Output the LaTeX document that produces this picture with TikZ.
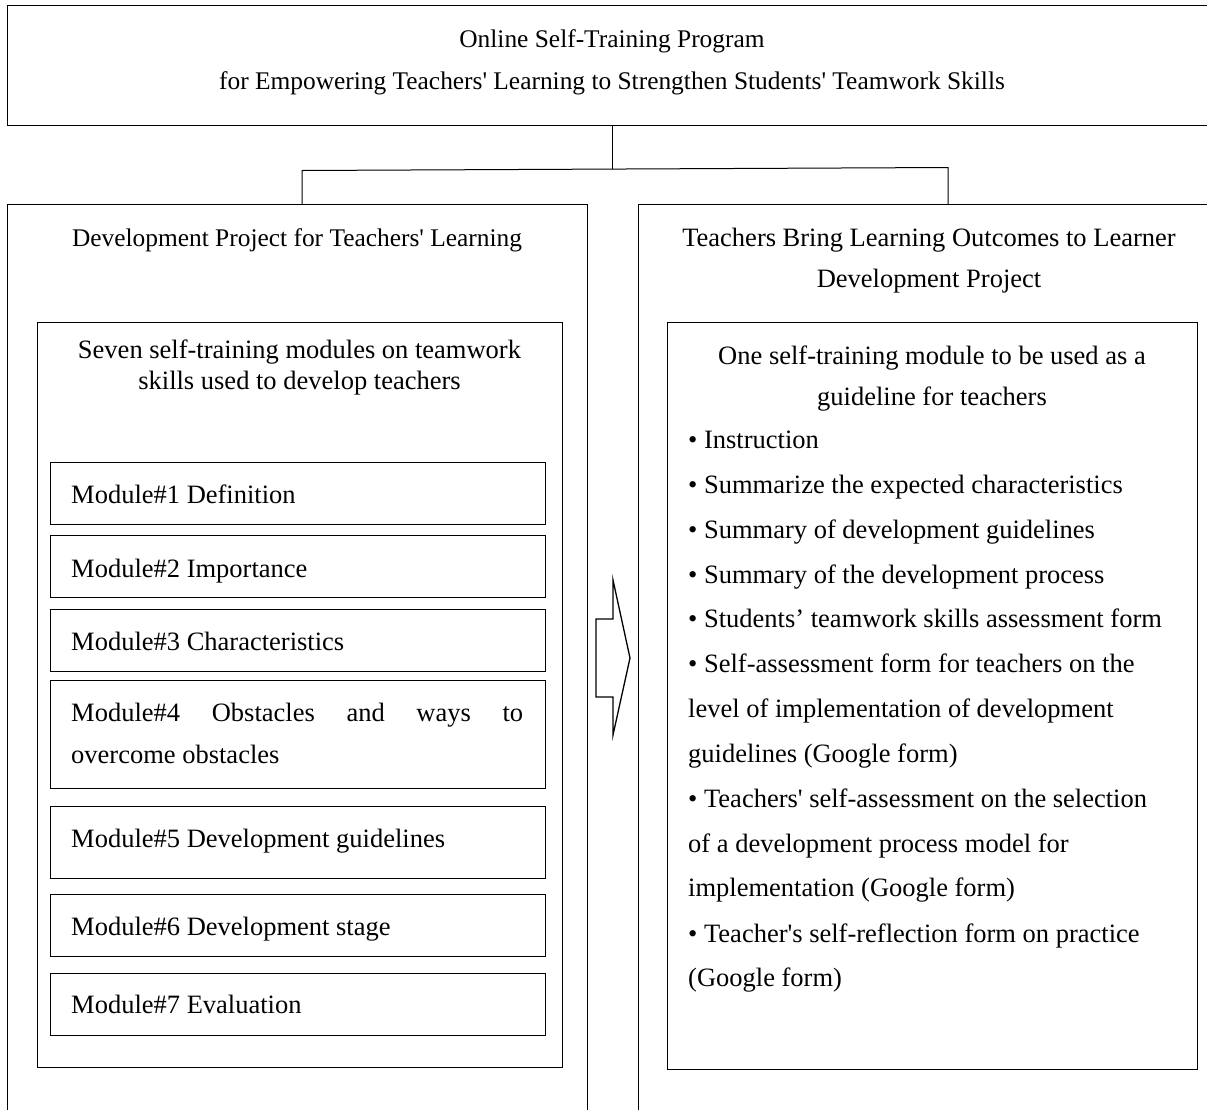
\documentclass[tikz,border=0pt]{standalone}
\usepackage{fontspec}
\setmainfont{Liberation Serif}
\begin{document}
\begin{tikzpicture}[x=1pt,y=-1pt,
  box/.style={draw=black,line width=1.1pt,inner sep=0pt},
  txt/.style={inner sep=0pt,font=\fontsize{26.5}{30}\selectfont},
  small/.style={font=\fontsize{25.4}{30}\selectfont},
  ctr/.style={txt,anchor=base},
  lft/.style={txt,anchor=base west},
  link/.style={draw=black,line width=1pt}]
\useasboundingbox (0,0) rectangle (1207,1109);
\fill[white] (0,0) rectangle (1207,1109);
% ----- boxes
\node[box,minimum width=1208pt,minimum height=120pt,anchor=north west] (top) at (7,5) {};
\node[box,minimum width=580pt,minimum height=930pt,anchor=north west] (L) at (7,204) {};
\node[box,minimum width=580pt,minimum height=930pt,anchor=north west] (R) at (638,204) {};
\node[box,minimum width=525pt,minimum height=745pt,anchor=north west] (Li) at (37,322) {};
\node[box,minimum width=530pt,minimum height=747pt,anchor=north west] (Ri) at (667,322) {};
\node[box,minimum width=495pt,minimum height=62pt,anchor=north west] (m1) at (50,462) {};
\node[box,minimum width=495pt,minimum height=62pt,anchor=north west] (m2) at (50,535) {};
\node[box,minimum width=495pt,minimum height=62pt,anchor=north west] (m3) at (50,608.5) {};
\node[box,minimum width=495pt,minimum height=108pt,anchor=north west] (m4) at (50,680) {};
\node[box,minimum width=495pt,minimum height=72pt,anchor=north west] (m5) at (50,806) {};
\node[box,minimum width=495pt,minimum height=62pt,anchor=north west] (m6) at (50,893.5) {};
\node[box,minimum width=495pt,minimum height=62pt,anchor=north west] (m7) at (50,973) {};
% ----- connectors
\coordinate (j) at (612,169);
\coordinate (jl) at (302,170.5);
\coordinate (jr) at (948,167.5);
\draw[link] (top.south -| j) -- (j);
\draw[link] (L.north -| jl) -- (jl) -- (jr) -- (R.north -| jr);
% ----- block arrow
\draw[line width=1.3pt,line join=miter]
  (613,580) -- (630,658) -- (613,735) -- (613,697) -- (596,697) -- (596,619) -- (613,619) -- cycle;
% ----- texts
\node[ctr,small] (t1) at (612,47) {Online Self-Training Program};
\node[ctr,small] (t2) at (612,89) {for Empowering Teachers\textquotesingle{} Learning to Strengthen Students\textquotesingle{} Teamwork Skills};
\node[ctr,small] (lh) at (297,246) {Development Project for Teachers\textquotesingle{} Learning};
\node[ctr] (rh1) at (929,246) {Teachers Bring Learning Outcomes to Learner};
\node[ctr] (rh2) at (929,287) {Development Project};
\node[ctr] (lih1) at (299.5,358) {Seven self-training modules on teamwork};
\node[ctr] (lih2) at (299.5,389) {skills used to develop teachers};
\node[ctr] (rih1) at (932,364) {One self-training module to be used as a};
\node[ctr] (rih2) at (932,405) {guideline for teachers};
\node[lft] (mt1) at (71,503) {Module\#1 Definition};
\node[lft] (mt2) at (71,577) {Module\#2 Importance};
\node[lft] (mt3) at (71,650) {Module\#3 Characteristics};
\node[lft] (mt4a) at (71,721) {\makebox[452pt][s]{Module\#4 Obstacles and ways to}};
\node[lft] (mt4b) at (71,763) {overcome obstacles};
\node[lft] (mt5) at (71,847) {Module\#5 Development guidelines};
\node[lft] (mt6) at (71,935) {Module\#6 Development stage};
\node[lft] (mt7) at (71,1013) {Module\#7 Evaluation};
\node[lft] (b1) at (688,448) {\textbullet{} Instruction};
\node[lft] (b2) at (688,493) {\textbullet{} Summarize the expected characteristics};
\node[lft] (b3) at (688,538) {\textbullet{} Summary of development guidelines};
\node[lft] (b4) at (688,583) {\textbullet{} Summary of the development process};
\node[lft] (b5) at (688,627) {\textbullet{} Students’ teamwork skills assessment form};
\node[lft] (b6a) at (688,672) {\textbullet{} Self-assessment form for teachers on the};
\node[lft] (b6b) at (688,717) {level of implementation of development};
\node[lft] (b6c) at (688,762) {guidelines (Google form)};
\node[lft] (b7a) at (688,807) {\textbullet{} Teachers\textquotesingle{} self-assessment on the selection};
\node[lft] (b7b) at (688,852) {of a development process model for};
\node[lft] (b7c) at (688,896) {implementation (Google form)};
\node[lft] (b8a) at (688,942) {\textbullet{} Teacher\textquotesingle{}s self-reflection form on practice};
\node[lft] (b8b) at (688,986) {(Google form)};
\end{tikzpicture}
\end{document}
